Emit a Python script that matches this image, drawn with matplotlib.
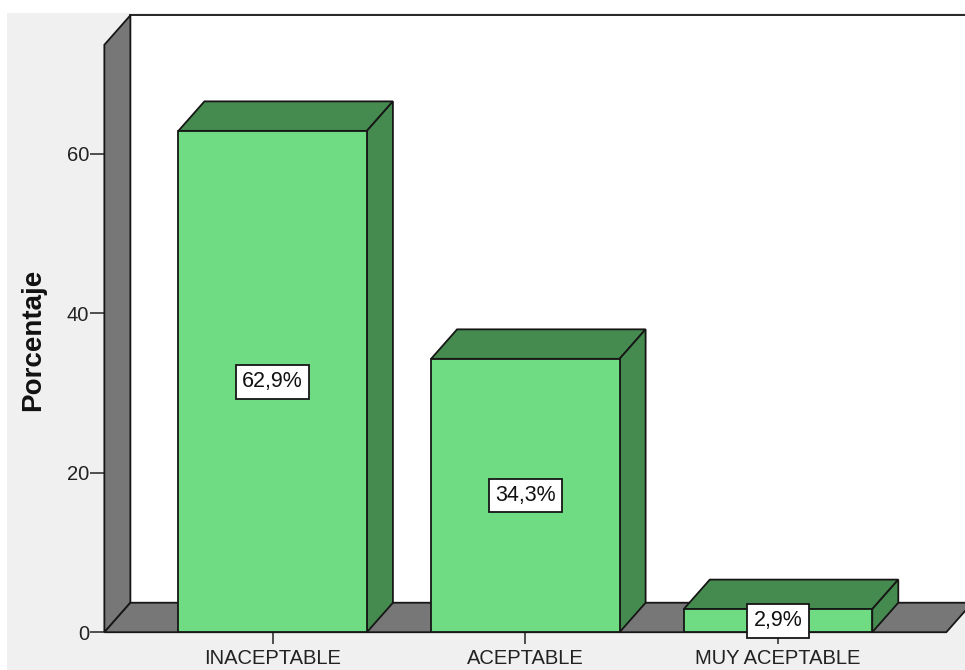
import matplotlib
matplotlib.use("Agg")
import matplotlib.pyplot as plt
from matplotlib.patches import Polygon, Rectangle

# Data
categories = ["INACEPTABLE", "ACEPTABLE", "MUY ACEPTABLE"]
percentages = [62.9, 34.3, 2.9]
y_ticks = [0, 20, 40, 60]
y_label = "Porcentaje"

# Styling
FRONT = "#6fdc84"
SHADE = "#458a4f"
WALL = "#777777"
EDGE = "#161616"
BG = "#f0f0f0"
LW = 1.3

W, H, DPI = 9.65, 6.7, 100
fig = plt.figure(figsize=(W, H), dpi=DPI, facecolor="white")

ax = fig.add_axes([0, 0, 1, 1])
ax.set_facecolor("none")
ax.set_xlim(-1.079, 2.740)
ax.set_ylim(-4.74, 79.32)

# Light gray chart area
ax.add_patch(Rectangle((7 / 965, 0), 1, 1 - 13 / 670,
                       transform=ax.transAxes, facecolor=BG,
                       edgecolor="none", zorder=0))

# 3D frame geometry (data units)
XMIN, XMAX = -0.666, 2.666
YTOP = 73.7
DX, DY = 0.103, 3.7
BAR_W = 0.746

# Back wall
ax.add_patch(Polygon([(XMIN + DX, DY), (XMAX + DX + 1, DY),
                      (XMAX + DX + 1, YTOP + DY), (XMIN + DX, YTOP + DY)],
                     closed=True, facecolor="white", edgecolor=EDGE,
                     lw=LW, zorder=1, joinstyle="miter"))
# Left wall
ax.add_patch(Polygon([(XMIN, 0), (XMIN, YTOP), (XMIN + DX, YTOP + DY),
                      (XMIN + DX, DY)],
                     closed=True, facecolor=WALL, edgecolor=EDGE,
                     lw=LW, zorder=2, joinstyle="miter"))
# Floor
ax.add_patch(Polygon([(XMIN, 0), (XMAX, 0), (XMAX + DX, DY),
                      (XMIN + DX, DY)],
                     closed=True, facecolor=WALL, edgecolor=EDGE,
                     lw=LW, zorder=2, joinstyle="miter"))

# Bars
for i, v in enumerate(percentages):
    x0, x1 = i - BAR_W / 2, i + BAR_W / 2
    top = [(x0, v), (x1, v), (x1 + DX, v + DY), (x0 + DX, v + DY)]
    side = [(x1, 0), (x1 + DX, DY), (x1 + DX, v + DY), (x1, v)]
    front = [(x0, 0), (x1, 0), (x1, v), (x0, v)]
    for pts in (top, side):
        ax.add_patch(Polygon(pts, closed=True, facecolor=SHADE,
                             edgecolor=EDGE, lw=LW, zorder=3,
                             joinstyle="miter"))
    ax.add_patch(Polygon(front, closed=True, facecolor=FRONT,
                         edgecolor=EDGE, lw=LW, zorder=4,
                         joinstyle="miter"))
    ax.text(i, v / 2, f"{v:.1f}%".replace(".", ","), ha="center",
            va="center", fontsize=15.5, family="Liberation Sans",
            color="#111111", zorder=6,
            bbox=dict(boxstyle="square,pad=0.3", facecolor="white",
                      edgecolor=EDGE, lw=1.3))

# Axes ticks placed along the front edges of the frame
for name in ("top", "right"):
    ax.spines[name].set_visible(False)
ax.spines["left"].set_position(("data", XMIN))
ax.spines["bottom"].set_position(("data", 0))
ax.spines["left"].set_color("none")
ax.spines["bottom"].set_color("none")

ax.set_yticks(y_ticks)
ax.set_yticklabels([str(t) for t in y_ticks])
ax.set_xticks(range(len(categories)))
ax.set_xticklabels(categories)
ax.tick_params(axis="y", direction="out", length=10, width=1.2,
               color="#333333", pad=1, labelsize=14.5, labelcolor="#222222")
ax.tick_params(axis="x", direction="out", length=8.5, width=1.2,
               color="#333333", pad=3.5, labelsize=14.5, labelcolor="#222222")
for lab in ax.get_xticklabels() + ax.get_yticklabels():
    lab.set_family("Liberation Sans")

ax.text(33 / 965, (670 - 340) / 670, y_label,
        transform=ax.transAxes, rotation=90, ha="center", va="center",
        fontsize=20, fontweight="bold", family="Liberation Sans",
        color="#111111")

fig.savefig("out.png", dpi=DPI, facecolor=fig.get_facecolor())
